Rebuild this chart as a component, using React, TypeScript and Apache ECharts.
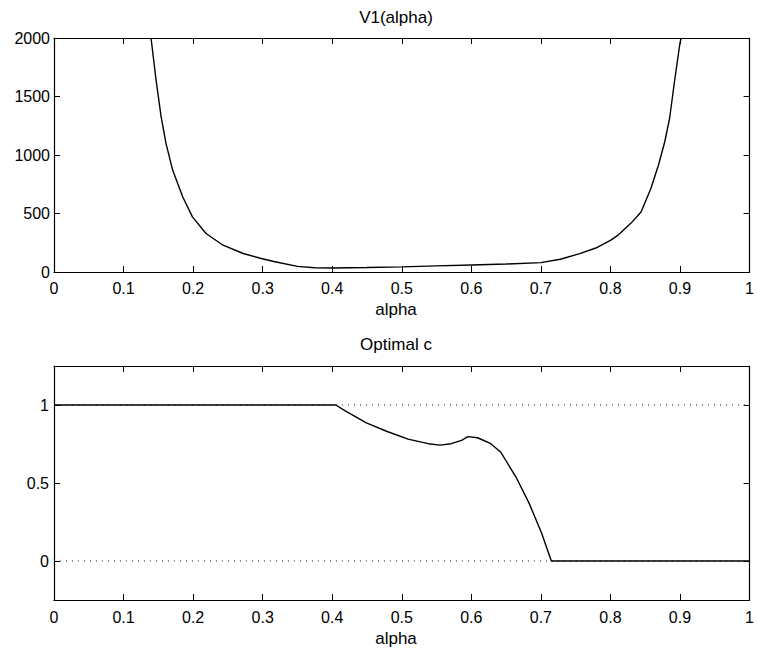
import React, { useEffect, useRef } from "react";
import * as echarts from "echarts";

// ---- Data ----
const xTicks = [0, 0.1, 0.2, 0.3, 0.4, 0.5, 0.6, 0.7, 0.8, 0.9, 1];
const v1Ticks = [0, 500, 1000, 1500, 2000];
const cTicks = [0, 0.5, 1];

const v1Alpha = [0.1395, 0.1467, 0.154, 0.161, 0.1706, 0.185, 0.199, 0.2186, 0.243, 0.272, 0.298, 0.316, 0.35, 0.375, 0.4, 0.45, 0.5, 0.55, 0.6, 0.65, 0.7, 0.728, 0.756, 0.779, 0.8, 0.812, 0.83, 0.844, 0.858, 0.869, 0.878, 0.885, 0.892, 0.8995, 0.9015];
const v1Value = [2000, 1643, 1328, 1100, 871, 643, 471, 329, 229, 158, 115, 90, 48, 36, 34, 38, 44, 52, 60, 68, 80, 109, 157, 205, 270, 320, 420, 513, 712, 912, 1111, 1310, 1624, 1938, 2000];

const cAlpha = [0, 0.405, 0.42, 0.449, 0.479, 0.509, 0.538, 0.555, 0.571, 0.586, 0.595, 0.609, 0.628, 0.642, 0.664, 0.683, 0.701, 0.715, 1];
const cValue = [1, 1, 0.959, 0.886, 0.83, 0.781, 0.752, 0.743, 0.752, 0.773, 0.797, 0.79, 0.752, 0.699, 0.54, 0.371, 0.18, 0, 0];

const refLevels = [0, 1];

const FONT = "'Liberation Sans', Arial, Helvetica, sans-serif";

export default function App() {
  const ref = useRef<HTMLDivElement>(null);

  useEffect(() => {
    document.body.style.margin = "0";
    if (!ref.current) return;
    const chart = echarts.init(ref.current, null, { renderer: "svg" });

    const axisLine = { show: true, onZero: false, lineStyle: { color: "#000", width: 1.2 } };
    const tick = { show: true, inside: true, length: 6, lineStyle: { color: "#000", width: 1 } };
    const label = { color: "#000", fontSize: 16, fontFamily: FONT };

    const grids = [
      { left: 54, top: 38, width: 697, height: 234 },
      { left: 54, top: 366, width: 697, height: 234 },
    ];

    const xAxes: any[] = [];
    const yAxes: any[] = [];
    [0, 1].forEach((g) => {
      xAxes.push({
        type: "value",
        gridIndex: g,
        position: "bottom",
        min: xTicks[0],
        max: xTicks[xTicks.length - 1],
        interval: 0.1,
        axisLine,
        axisTick: tick,
        axisLabel: { ...label, margin: g === 0 ? 8 : 9, formatter: (v: number) => String(+v.toFixed(1)) },
        splitLine: { show: false },
      });
      xAxes.push({
        type: "value",
        gridIndex: g,
        position: "top",
        min: xTicks[0],
        max: xTicks[xTicks.length - 1],
        interval: 0.1,
        axisLine,
        axisTick: tick,
        axisLabel: { show: false },
        splitLine: { show: false },
      });
    });

    // top plot y axes
    yAxes.push({
      type: "value",
      gridIndex: 0,
      position: "left",
      min: v1Ticks[0],
      max: v1Ticks[v1Ticks.length - 1],
      interval: 500,
      axisLine,
      axisTick: tick,
      axisLabel: { ...label, margin: 4, formatter: (v: number) => String(v) },
      splitLine: { show: false },
    });
    yAxes.push({
      type: "value",
      gridIndex: 0,
      position: "right",
      min: v1Ticks[0],
      max: v1Ticks[v1Ticks.length - 1],
      interval: 500,
      axisLine,
      axisTick: tick,
      axisLabel: { show: false },
      splitLine: { show: false },
    });
    // bottom plot y axes
    yAxes.push({
      type: "value",
      gridIndex: 1,
      position: "left",
      min: -0.25,
      max: 1.25,
      interval: 0.25,
      axisLine,
      axisTick: { ...tick, customValues: cTicks },
      axisLabel: { ...label, margin: 5, customValues: cTicks, formatter: (v: number) => String(+v.toFixed(2)) },
      splitLine: { show: false },
    });
    yAxes.push({
      type: "value",
      gridIndex: 1,
      position: "right",
      min: -0.25,
      max: 1.25,
      interval: 0.25,
      axisLine,
      axisTick: { ...tick, customValues: cTicks },
      axisLabel: { show: false },
      splitLine: { show: false },
    });

    const series: any[] = [];
    refLevels.forEach((lvl) => {
      series.push({
        type: "line",
        xAxisIndex: 2,
        yAxisIndex: 2,
        data: [
          [xTicks[0], lvl],
          [xTicks[xTicks.length - 1], lvl],
        ],
        symbol: "none",
        lineStyle: { color: "#222", width: 1, type: [1, 5] },
        silent: true,
        z: 1,
      });
    });
    series.push({
      type: "line",
      xAxisIndex: 0,
      yAxisIndex: 0,
      data: v1Alpha.map((a, i) => [a, v1Value[i]]),
      symbol: "none",
      clip: true,
      lineStyle: { color: "#000", width: 1.4 },
      z: 3,
    });
    series.push({
      type: "line",
      xAxisIndex: 2,
      yAxisIndex: 2,
      data: cAlpha.map((a, i) => [a, cValue[i]]),
      symbol: "none",
      clip: true,
      lineStyle: { color: "#000", width: 1.4 },
      z: 3,
    });

    const txt = (text: string, x: number, y: number) => ({
      type: "text",
      x,
      y,
      style: {
        text,
        fill: "#000",
        font: `17px ${FONT}`,
        textAlign: "center",
        textVerticalAlign: "middle",
      },
    });

    chart.setOption({
      animation: false,
      backgroundColor: "#fff",
      grid: grids,
      xAxis: xAxes,
      yAxis: yAxes,
      series,
      graphic: [
        txt("V1(alpha)", 396, 17),
        txt("alpha", 396, 309),
        txt("Optimal c", 396, 344),
        txt("alpha", 396, 638),
      ],
    });

    return () => chart.dispose();
  }, []);

  return <div ref={ref} style={{ width: 757, height: 653 }} />;
}
